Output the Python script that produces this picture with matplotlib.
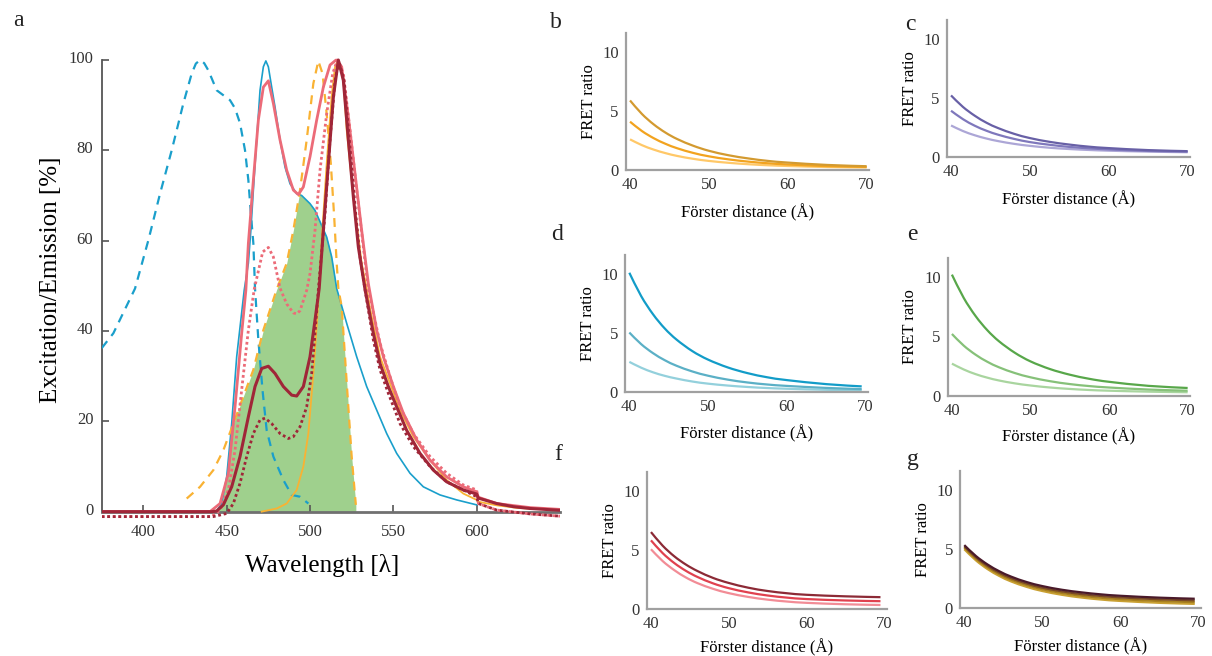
import numpy as np
import matplotlib
matplotlib.use("Agg")
import matplotlib.pyplot as plt
import matplotlib.transforms as mtransforms
from matplotlib.path import Path
from matplotlib.patches import PathPatch

plt.rcParams['font.family'] = ['Liberation Serif', 'DejaVu Serif']
plt.rcParams['text.color'] = '#333333'

# ---- panel a: excitation / emission spectra ----
blue_ex_x = [375, 382, 395, 403, 410, 417, 424, 429, 431.5, 434, 436.5, 439, 444, 448, 452, 455, 458,
             461, 463, 464.5, 466, 467, 469, 471.5, 474, 478, 484, 489, 494, 499]
blue_ex_y = [36.2, 39.5, 49.4, 60.1, 70.4, 80.0, 90.4, 97.0, 99.2, 100, 99.3, 97.7, 93.3, 92.2, 91.1,
             89.3, 86.0, 80.0, 73.4, 66.0, 59.4, 49.4, 38.0, 26.9, 18.0, 12.2, 7.0, 3.7, 3.3, 1.8]

blue_em_x = [375, 441, 444, 447, 450, 453, 456, 460.5, 463, 464.5, 466, 468, 470, 472, 473.5, 475, 477,
             479, 482, 485, 488, 492, 495, 500, 503, 506, 510, 513, 516, 522, 528, 534, 540, 546, 552,
             560, 568, 578, 588, 600]
blue_em_y = [0, 0, 0.2, 1.8, 7.7, 19.5, 34.3, 49.0, 55.0, 62.3, 71.2, 82.3, 93.3, 98.5, 99.8, 98.5, 94.0,
             89.6, 82.3, 76.3, 72.6, 70.4, 70.0, 68.2, 66.7, 64.2, 60.8, 56.4, 49.4, 41.7, 34.3, 27.7,
             22.5, 17.3, 12.9, 8.5, 5.5, 3.7, 2.6, 1.5]

orange_ex_x = [426, 434, 442, 448, 454, 460, 466, 472, 480, 486, 490, 494, 498, 502, 505, 507.5, 510,
               512.5, 514.5, 516, 517, 519, 521, 523, 525, 527.5]
orange_ex_y = [2.9, 5.5, 9.2, 13.6, 19.5, 25.5, 31.4, 40.2, 49.2, 55.0, 62.3, 71.2, 82.3, 94.8, 99.8,
               97.0, 88.1, 77.0, 65.3, 55.0, 49.4, 45.4, 34.3, 23.2, 12.2, 1.5]

orange_em_x = [471, 480, 486, 492, 496, 499, 502, 504.4, 507, 510, 513, 515, 517, 520, 522, 526, 531,
               534, 536, 542, 548, 554, 562, 572, 582, 592, 600, 601, 612, 625, 650]
orange_em_y = [0, 0.7, 1.8, 4.8, 10.0, 17.3, 30.6, 43.2, 60.0, 77.0, 92.0, 98.5, 100, 96.0, 84.5, 69.7,
               55.0, 49.4, 45.0, 34.3, 28.4, 22.5, 16.6, 11.4, 7.0, 4.0, 2.6, 2.2, 1.4, 0.8, 0.4]

pink_x = [375, 440, 446, 451, 455, 459, 461.5, 463, 466, 469, 472, 475, 478, 482, 486, 490, 493, 496,
          500, 504, 508, 512, 515.6, 519, 523, 527, 531, 535, 540, 544, 550, 556, 564, 572, 582, 592,
          600, 601, 612, 632, 650]
pink_y = [0, 0, 1.8, 8.5, 23.2, 39.5, 49.0, 59.4, 73.4, 86.7, 94.0, 95.4, 90.4, 82.3, 75.6, 71.2, 70.2,
          71.9, 78.6, 86.7, 94.0, 98.9, 100, 98.5, 87.4, 74.9, 62.3, 50.5, 40.2, 34.3, 27.7, 21.8, 15.9,
          11.4, 7.7, 5.5, 4.4, 3.2, 1.8, 0.9, 0.5]

pink_dot_x = [375, 441, 446, 451, 455, 459, 463, 466.5, 471.6, 475, 478, 482, 486, 490, 492, 494, 498,
              500, 503, 506, 510, 513.6, 516.4, 520, 524, 528, 532, 535, 542, 548, 554, 562, 572, 582,
              592, 600, 601, 612, 632, 650]
pink_dot_y = [-1.1, -1.1, 0.35, 4.8, 13.6, 27.0, 40.2, 49.2, 57.5, 58.5, 56.4, 49.5, 46.0, 44.0, 43.8,
              44.5, 49.0, 52.7, 62.3, 75.6, 88.1, 97.0, 100, 97.0, 84.5, 71.2, 58.6, 49.2, 37.3, 29.9,
              23.2, 17.3, 12.2, 8.5, 5.9, 4.8, 1.8, 0.35, -0.5, -1.0]

red_x = [375, 441, 444, 448, 453, 458, 463, 467, 471, 475, 479, 484, 489, 492, 496, 500, 503, 505.5,
         508, 511, 514, 517, 520, 523, 526, 529, 533, 538, 542, 547, 552, 558, 566, 574, 582, 592, 600,
         601, 612, 622, 632, 650]
red_y = [0, 0, 0.14, 1.5, 5.5, 12.2, 21.0, 27.7, 31.7, 32.2, 30.6, 27.7, 25.8, 25.6, 27.7, 34.3, 42.4,
         49.4, 62.3, 77.0, 91.8, 100, 95.5, 82.3, 69.7, 58.6, 49.2, 39.5, 32.8, 27.7, 23.2, 18.0, 12.9,
         9.2, 6.6, 4.8, 3.9, 3.0, 1.8, 1.1, 0.7, 0.3]

red_dot_x = [375, 442, 450, 454, 458, 462, 466, 470, 473, 477, 482, 487, 490, 494, 498, 501, 503, 505,
             509, 512, 515, 517.4, 520.4, 523.6, 527, 530, 533, 538, 542, 547, 554, 562, 572, 582, 592,
             600, 601, 612, 632, 650]
red_dot_y = [-1.1, -1.1, -0.4, 1.8, 6.3, 12.2, 17.3, 20.3, 20.7, 19.5, 17.3, 16.2, 16.6, 18.8, 23.2,
             30.6, 39.5, 49.2, 66.0, 82.3, 95.5, 99.8, 95.5, 82.3, 67.5, 56.4, 49.2, 38.0, 31.4, 26.2,
             19.5, 14.4, 10.0, 6.6, 4.8, 3.3, 1.8, 0.35, -0.5, -1.0]

# ---- panels b-g: FRET ratio vs Forster distance ----
dist = [40, 41.5, 43, 44.5, 46, 48, 50, 52.5, 55, 57.5, 60, 65, 70]
dist_short = [40, 41.5, 43, 44.5, 46, 48, 50, 52.5, 55, 57.5, 60, 65, 69.5]

b_vals = [[2.60, 2.11, 1.73, 1.43, 1.19, 0.95, 0.77, 0.61, 0.49, 0.40, 0.34, 0.25, 0.21],
          [4.10, 3.31, 2.70, 2.22, 1.84, 1.45, 1.16, 0.90, 0.71, 0.57, 0.47, 0.33, 0.26],
          [5.90, 4.76, 3.87, 3.17, 2.62, 2.06, 1.63, 1.25, 0.98, 0.77, 0.63, 0.43, 0.32]]
c_vals = [[2.65, 2.18, 1.82, 1.54, 1.32, 1.09, 0.92, 0.76, 0.65, 0.57, 0.51, 0.43, 0.38],
          [3.90, 3.19, 2.63, 2.20, 1.86, 1.51, 1.24, 1.01, 0.83, 0.71, 0.62, 0.49, 0.43],
          [5.20, 4.23, 3.48, 2.88, 2.42, 1.94, 1.58, 1.26, 1.03, 0.85, 0.73, 0.56, 0.47]]
d_vals = [[2.57, 2.08, 1.69, 1.39, 1.16, 0.91, 0.73, 0.57, 0.45, 0.36, 0.30, 0.21, 0.17],
          [5.05, 4.07, 3.31, 2.71, 2.24, 1.76, 1.40, 1.07, 0.83, 0.66, 0.54, 0.37, 0.27],
          [10.10, 8.13, 6.60, 5.39, 4.45, 3.48, 2.76, 2.10, 1.62, 1.27, 1.03, 0.69, 0.50]]
e_vals = [[2.70, 2.21, 1.82, 1.52, 1.28, 1.04, 0.86, 0.69, 0.57, 0.48, 0.42, 0.34, 0.29],
          [5.20, 4.22, 3.46, 2.86, 2.39, 1.91, 1.55, 1.22, 0.98, 0.81, 0.69, 0.52, 0.42],
          [10.20, 8.24, 6.72, 5.52, 4.58, 3.62, 2.89, 2.24, 1.77, 1.42, 1.17, 0.83, 0.65]]
f_vals = [[5.05, 4.05, 3.28, 2.66, 2.18, 1.70, 1.34, 1.02, 0.79, 0.63, 0.52, 0.40, 0.34],
          [5.80, 4.72, 3.88, 3.22, 2.70, 2.16, 1.76, 1.40, 1.14, 0.96, 0.84, 0.72, 0.66],
          [6.50, 5.35, 4.45, 3.75, 3.20, 2.62, 2.20, 1.80, 1.52, 1.33, 1.20, 1.07, 1.00]]
g_vals = [[4.95, 4.00, 3.26, 2.68, 2.22, 1.76, 1.41, 1.09, 0.86, 0.69, 0.57, 0.41, 0.32],
          [5.10, 4.15, 3.41, 2.83, 2.37, 1.91, 1.56, 1.24, 1.01, 0.84, 0.72, 0.56, 0.47],
          [5.20, 4.26, 3.53, 2.95, 2.50, 2.04, 1.69, 1.38, 1.15, 0.99, 0.87, 0.71, 0.62],
          [5.30, 4.37, 3.65, 3.08, 2.63, 2.17, 1.83, 1.52, 1.30, 1.13, 1.01, 0.85, 0.76]]

W, H = 1212, 656
fig = plt.figure(figsize=(W / 100, H / 100), dpi=100, facecolor='white')


def px_axes(left, right, top, bottom):
    return fig.add_axes([left / W, 1 - bottom / H, (right - left) / W, (bottom - top) / H])


def smooth_line(axis, xs, ys, color, lw):
    # Catmull-Rom style bezier through the read points, so the curve has no corners
    x = np.asarray(xs, float)
    y = np.asarray(ys, float)
    pts = np.column_stack([x, y])
    n = len(pts)
    verts = [pts[0]]
    codes = [Path.MOVETO]
    for i in range(n - 1):
        p0 = pts[i - 1] if i > 0 else pts[i]
        p1, p2 = pts[i], pts[i + 1]
        p3 = pts[i + 2] if i + 2 < n else pts[i + 1]
        verts += [p1 + (p2 - p0) / 6, p2 - (p3 - p1) / 6, p2]
        codes += [Path.CURVE4] * 3
    axis.add_patch(PathPatch(Path(verts, codes), fill=False, edgecolor=color, lw=lw,
                             capstyle='butt'))


# ---------- panel a ----------
ax = px_axes(101.7, 560, 55.5, 525.2)
BLUE, ORANGE, PINK, RED = '#1a9fcb', '#f9b233', '#ec6b78', '#a02638'

grid = np.linspace(426, 527.5, 600)
overlap = np.minimum(np.interp(grid, blue_em_x, blue_em_y), np.interp(grid, orange_ex_x, orange_ex_y))
ax.fill_between(grid, 0, overlap, color='#9fd08d', lw=0, zorder=1)

ax.plot(blue_ex_x, blue_ex_y, color=BLUE, lw=1.6, ls=(0, (4, 3)), zorder=3)
ax.plot(blue_em_x, blue_em_y, color=BLUE, lw=1.2, zorder=3)
ax.plot(orange_ex_x, orange_ex_y, color=ORANGE, lw=1.6, ls=(0, (4, 3)), zorder=3)
ax.plot(orange_em_x, orange_em_y, color=ORANGE, lw=1.3, zorder=3)
ax.plot(pink_x, pink_y, color=PINK, lw=2.0, zorder=4)
ax.plot(pink_dot_x, pink_dot_y, color=PINK, lw=2.0, ls=(0, (1, 1)), zorder=4)
ax.plot(red_x, red_y, color=RED, lw=2.2, zorder=5)
ax.plot(red_dot_x, red_dot_y, color=RED, lw=2.0, ls=(0, (1, 1)), zorder=5)

ax.set_xlim(375, 650)
ax.set_ylim(-3, 101)
ax.spines['top'].set_visible(False)
ax.spines['right'].set_visible(False)
ax.spines['bottom'].set_position(('data', 0))
ax.spines['bottom'].set_color('#707070')
ax.spines['bottom'].set_linewidth(2.0)
ax.spines['left'].set_bounds(0, 100)
ax.spines['left'].set_color('#555555')
ax.spines['left'].set_linewidth(1.3)
ax.set_xticks([400, 450, 500, 550, 600])
ax.set_yticks([0, 20, 40, 60, 80, 100])
ax.tick_params(direction='in', length=5, width=1.2, color='#555555', labelsize=12,
               labelcolor='#333333')
ax.tick_params(axis='x', pad=9)
ax.tick_params(axis='y', pad=6)
offset = mtransforms.ScaledTranslation(0, 3 / 100, fig.dpi_scale_trans)
for lab in ax.get_yticklabels():
    lab.set_transform(lab.get_transform() + offset)
ax.set_xlabel('Wavelength [λ]', fontsize=18)
ax.set_ylabel('Excitation/Emission [%]', fontsize=18)
ax.xaxis.set_label_coords(0.481, -0.062)
ax.yaxis.set_label_coords(-0.087, 0.522)
ax.patch.set_alpha(0)

# ---------- panels b-g ----------
panels = [
    ('b', (625.7, 869, 33.3, 170), dist, b_vals, ['#ffc868', '#f2a31f', '#d39a30'], (556, 22), 8),
    ('c', (946.7, 1190, 20, 156.7), dist, c_vals, ['#aca6d6', '#7f78bc', '#6860a6'], (910, 25), 8),
    ('d', (625, 868, 255, 392.3), dist_short, d_vals, ['#93d0dc', '#5bb0c6', '#129cc8'], (557, 235), 7),
    ('e', (947.6, 1190, 258, 395.7), dist, e_vals, ['#a9d59f', '#86c179', '#58a74a'], (912, 235), 7),
    ('f', (646.7, 886.7, 471.7, 609), dist_short, f_vals, ['#f28c96', '#e0414f', '#8c2a36'], (558, 455), 5),
    ('g', (960, 1201, 470.7, 607.7), dist_short, g_vals, ['#c9a032', '#a8801e', '#7a4a25', '#4a1a2a'],
     (913, 460), 5),
]

for letter, (l, r, t, b), xs, vals, cols, (lx, ly), xpad in panels:
    axp = px_axes(l, r, t, b)
    for v, c in zip(vals, cols):
        smooth_line(axp, xs, v, c, 1.6)
    axp.set_xlim(39.45, 70.3)
    axp.set_ylim(0, 11.6)
    axp.set_xticks([40, 50, 60, 70])
    axp.set_yticks([0, 5, 10])
    for s in ('top', 'right'):
        axp.spines[s].set_visible(False)
    for s in ('left', 'bottom'):
        axp.spines[s].set_color('#a0a0a0')
        axp.spines[s].set_linewidth(1.6)
    axp.tick_params(length=0, labelsize=12, labelcolor='#333333')
    axp.tick_params(axis='x', pad=5)
    axp.tick_params(axis='y', pad=5)
    axp.set_xlabel('Förster distance (Å)', fontsize=12, labelpad=xpad)
    axp.set_ylabel('FRET ratio', fontsize=12, labelpad=4)
    axp.patch.set_alpha(0)
    fig.text(lx / W, 1 - ly / H, letter, fontsize=17, ha='center', va='center', color='#222222')

fig.text(18 / W, 1 - 21 / H, 'a', fontsize=17, ha='center', va='center', color='#222222')

fig.savefig('out.png', dpi=100, facecolor='white')
